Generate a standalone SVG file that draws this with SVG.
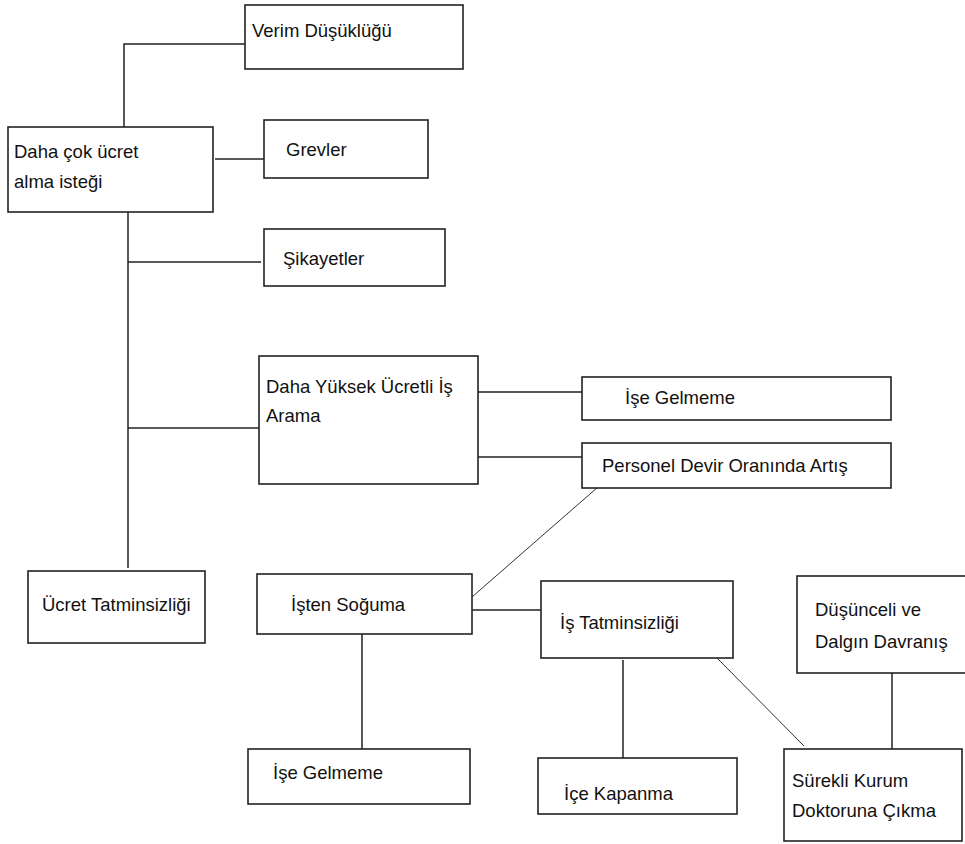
<svg xmlns="http://www.w3.org/2000/svg" width="965" height="844" viewBox="0 0 965 844">
<style>
.box{fill:#fff;stroke:#222;stroke-width:1.6}
.ln{stroke:#222;stroke-width:1.5;fill:none}
.dg{stroke:#333;stroke-width:1;fill:none}
text{font-family:"Liberation Sans",Arial,sans-serif;font-size:18.5px;fill:#111}
</style>
<rect width="965" height="844" fill="#fff"/>
<g id="connectors">
<polyline class="ln" points="124,127 124,44 245,44"/>
<line class="ln" x1="215" y1="159" x2="264" y2="159"/>
<line class="ln" x1="128" y1="212" x2="128" y2="568"/>
<line class="ln" x1="128" y1="262" x2="261" y2="262"/>
<line class="ln" x1="128" y1="428" x2="259" y2="428"/>
<line class="ln" x1="478" y1="392" x2="582" y2="392"/>
<line class="ln" x1="478" y1="457" x2="582" y2="457"/>
<line class="dg" x1="598" y1="487" x2="472" y2="597"/>
<line class="ln" x1="472" y1="610" x2="542" y2="610"/>
<line class="ln" x1="362" y1="634" x2="362" y2="749"/>
<line class="ln" x1="623" y1="660" x2="623" y2="758"/>
<line class="dg" x1="717" y1="658" x2="804" y2="746"/>
<line class="ln" x1="892" y1="673" x2="892" y2="749"/>
</g>
<g id="verim"><rect class="box" x="245" y="5" width="218" height="64"/><text x="252" y="37">Verim Düşüklüğü</text></g>
<g id="daha-cok"><rect class="box" x="8" y="127" width="205" height="85"/><text x="14" y="158">Daha çok ücret</text><text x="14" y="188">alma isteği</text></g>
<g id="grevler"><rect class="box" x="264" y="120" width="164" height="58"/><text x="286" y="156">Grevler</text></g>
<g id="sikayetler"><rect class="box" x="264" y="229" width="181" height="57"/><text x="283" y="265">Şikayetler</text></g>
<g id="daha-yuksek"><rect class="box" x="259" y="356" width="219" height="128"/><text x="266" y="393">Daha Yüksek Ücretli İş</text><text x="266" y="422">Arama</text></g>
<g id="ise-gelmeme-1"><rect class="box" x="582" y="377" width="309" height="43"/><text x="625" y="404">İşe Gelmeme</text></g>
<g id="personel"><rect class="box" x="582" y="443" width="309" height="45"/><text x="602" y="472">Personel Devir Oranında Artış</text></g>
<g id="ucret"><rect class="box" x="28" y="571" width="177" height="72"/><text x="42" y="611">Ücret Tatminsizliği</text></g>
<g id="isten"><rect class="box" x="257" y="574" width="215" height="60"/><text x="291" y="611">İşten Soğuma</text></g>
<g id="is-tatmin"><rect class="box" x="541" y="581" width="192" height="77"/><text x="560" y="629">İş Tatminsizliği</text></g>
<g id="dusunceli"><rect class="box" x="797" y="576" width="172" height="97"/><text x="815" y="616">Düşünceli ve</text><text x="815" y="648">Dalgın Davranış</text></g>
<g id="ise-gelmeme-2"><rect class="box" x="248" y="749" width="222" height="55"/><text x="273" y="779">İşe Gelmeme</text></g>
<g id="ice"><rect class="box" x="538" y="758" width="199" height="56"/><text x="564" y="800">İçe Kapanma</text></g>
<g id="surekli"><rect class="box" x="784" y="749" width="178" height="92"/><text x="792" y="787">Sürekli Kurum</text><text x="792" y="817">Doktoruna Çıkma</text></g>
</svg>
